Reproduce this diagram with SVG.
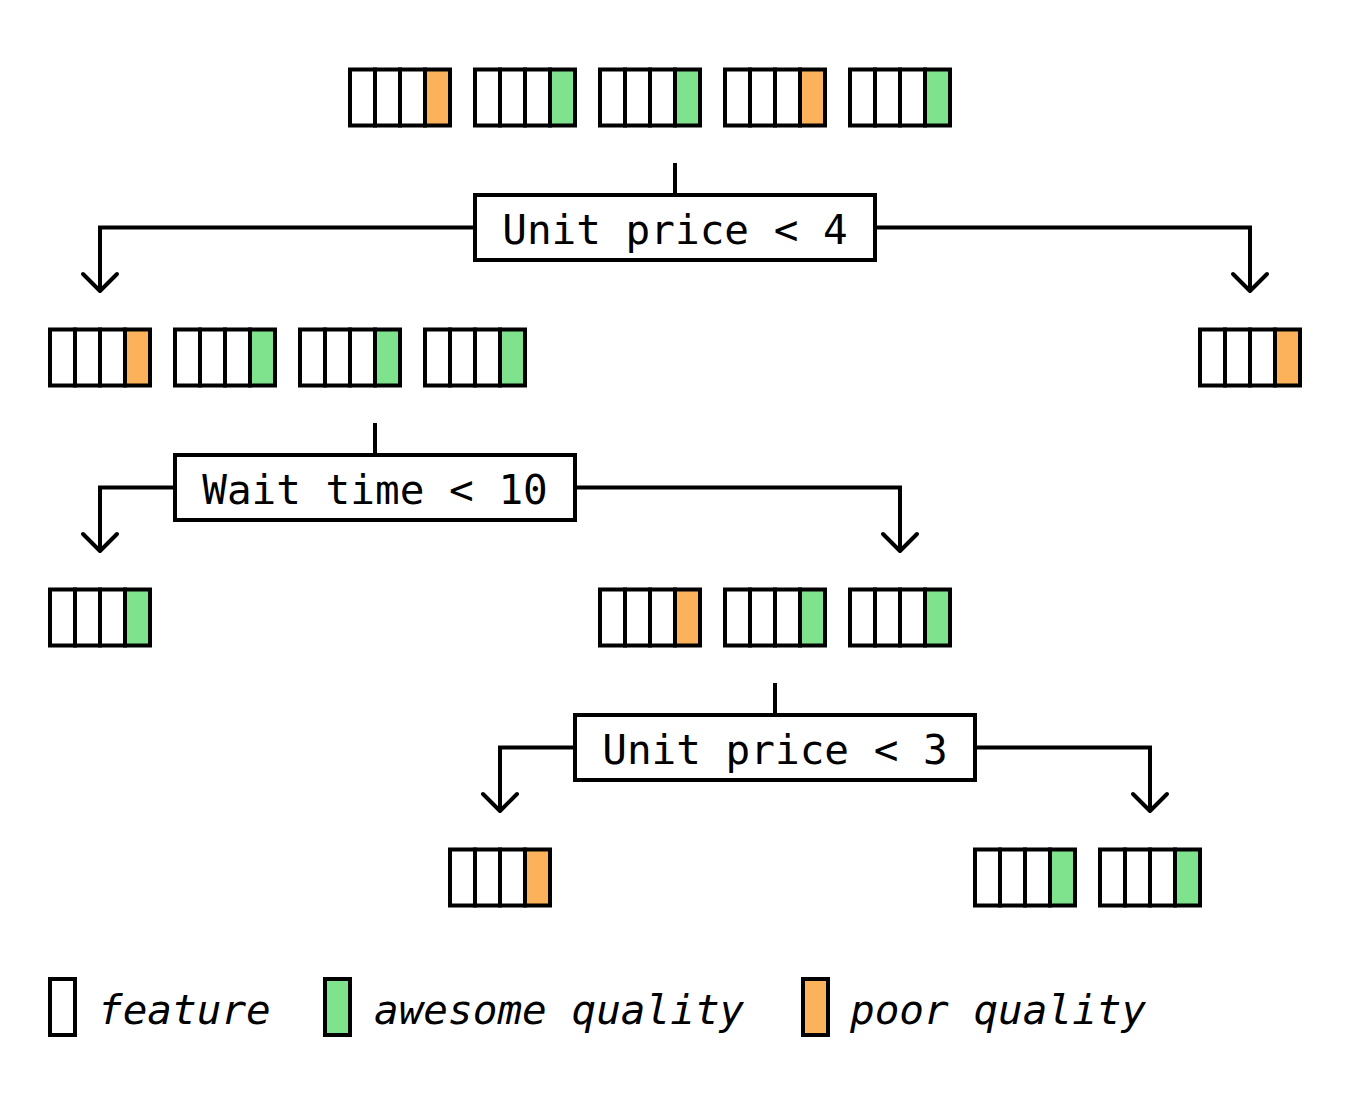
<svg xmlns="http://www.w3.org/2000/svg" width="1350" height="1105" viewBox="0 0 1350 1105">
<defs>
<style>
.cell{fill:#fff;stroke:#000;stroke-width:4}
.g{fill:#7fe28c;stroke:#000;stroke-width:4}
.o{fill:#fbb25a;stroke:#000;stroke-width:4}
.box{fill:#fff;stroke:#000;stroke-width:4}
.lbl{font-family:"DejaVu Sans Mono","Liberation Mono",monospace;font-size:41px;fill:#000;text-anchor:middle}
.leg{font-family:"DejaVu Sans Mono","Liberation Mono",monospace;font-size:41px;font-style:italic;fill:#000}
.ln{fill:none;stroke:#000;stroke-width:4}
</style>
<g id="recG">
<rect class="cell" x="0" y="0" width="25" height="56"/>
<rect class="cell" x="25" y="0" width="25" height="56"/>
<rect class="cell" x="50" y="0" width="25" height="56"/>
<rect class="g" x="75" y="0" width="25" height="56"/>
</g>
<g id="recO">
<rect class="cell" x="0" y="0" width="25" height="56"/>
<rect class="cell" x="25" y="0" width="25" height="56"/>
<rect class="cell" x="50" y="0" width="25" height="56"/>
<rect class="o" x="75" y="0" width="25" height="56"/>
</g>
<marker id="arr" viewBox="-22 -22 30 44" markerWidth="30" markerHeight="44" refX="0" refY="0" orient="auto" markerUnits="userSpaceOnUse">
<path d="M-17,-17 L0,0 L-17,17" fill="none" stroke="#000" stroke-width="4" stroke-linecap="round" stroke-linejoin="round"/>
</marker>
</defs>
<rect width="1350" height="1105" fill="#fff"/>

<g id="connectors">
<path class="ln" d="M675,163 V195"/>
<path class="ln" d="M475,227.5 H100 V291" marker-end="url(#arr)"/>
<path class="ln" d="M875,227.5 H1250 V291" marker-end="url(#arr)"/>
<path class="ln" d="M375,423 V455"/>
<path class="ln" d="M175,487.5 H100 V551" marker-end="url(#arr)"/>
<path class="ln" d="M575,487.5 H900 V551" marker-end="url(#arr)"/>
<path class="ln" d="M775,683 V715"/>
<path class="ln" d="M575,747.5 H500 V811" marker-end="url(#arr)"/>
<path class="ln" d="M975,747.5 H1150 V811" marker-end="url(#arr)"/>
</g>

<g id="root-set">
<use href="#recO" x="350" y="69.5"/>
<use href="#recG" x="475" y="69.5"/>
<use href="#recG" x="600" y="69.5"/>
<use href="#recO" x="725" y="69.5"/>
<use href="#recG" x="850" y="69.5"/>
</g>

<g id="split1">
<rect class="box" x="475" y="195" width="400" height="65"/>
<text class="lbl" x="675" y="244">Unit price &lt; 4</text>
</g>

<g id="left-set">
<use href="#recO" x="50" y="329.5"/>
<use href="#recG" x="175" y="329.5"/>
<use href="#recG" x="300" y="329.5"/>
<use href="#recG" x="425" y="329.5"/>
</g>

<g id="right-leaf">
<use href="#recO" x="1200" y="329.5"/>
</g>

<g id="split2">
<rect class="box" x="175" y="455" width="400" height="65"/>
<text class="lbl" x="375" y="504">Wait time &lt; 10</text>
</g>

<g id="leaf-wait-left">
<use href="#recG" x="50" y="589.5"/>
</g>

<g id="mid-set">
<use href="#recO" x="600" y="589.5"/>
<use href="#recG" x="725" y="589.5"/>
<use href="#recG" x="850" y="589.5"/>
</g>

<g id="split3">
<rect class="box" x="575" y="715" width="400" height="65"/>
<text class="lbl" x="775" y="764">Unit price &lt; 3</text>
</g>

<g id="leaf-price3-left">
<use href="#recO" x="450" y="849.5"/>
</g>

<g id="leaf-price3-right">
<use href="#recG" x="975" y="849.5"/>
<use href="#recG" x="1100" y="849.5"/>
</g>

<g id="legend">
<rect class="cell" x="50" y="979" width="25" height="56"/>
<text class="leg" x="98" y="1024">feature</text>
<rect class="g" x="325" y="979" width="25" height="56"/>
<text class="leg" x="374" y="1024">awesome quality</text>
<rect class="o" x="803" y="979" width="25" height="56"/>
<text class="leg" x="850" y="1024">poor quality</text>
</g>
</svg>
